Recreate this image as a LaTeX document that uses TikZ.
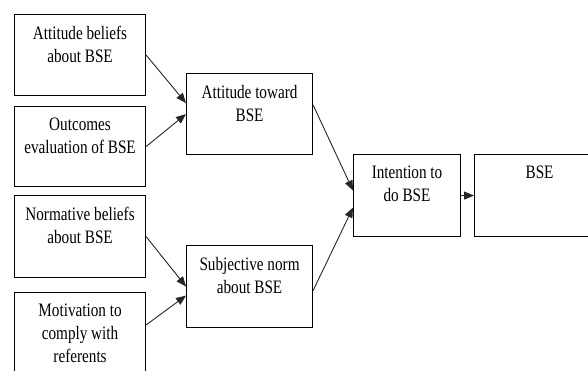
\documentclass[tikz,border=0pt]{standalone}
\usepackage{fontspec}
\newfontfamily\tnr[FakeStretch=0.8]{Liberation Serif}
\usetikzlibrary{arrows.meta, positioning}

\tikzset{
	box/.style = {draw, line width=1.1pt, anchor=north west, inner sep=0pt,
		minimum width=131pt, minimum height=81pt},
	lbl/.style = {anchor=north, inner sep=0pt, yshift=-12pt, align=center,
		font=\tnr\fontsize{19}{23}\selectfont},
	arr/.style = {draw=black!85, line width=0.9pt, -{Triangle[length=10pt, width=8pt]}}
}

\begin{document}
\begin{tikzpicture}[x=1pt, y=-1pt]
	\useasboundingbox (0,0) rectangle (588,370);
	\clip (0,0) rectangle (588,370);
	% left column
	\node [box, label={[lbl]north:{Attitude beliefs\\about BSE}}] (ab) at (14,14) {};
	\node [box, minimum height=80pt, label={[lbl]north:{Outcomes\\evaluation of BSE}}] (oe) at (14,106) {};
	\node [box, minimum height=82pt, label={[lbl]north:{Normative beliefs\\about BSE}}] (nb) at (14,195) {};
	\node [box, minimum height=95pt, label={[lbl]north:{Motivation to\\comply with\\referents}}] (mc) at (14,292) {};
	% middle column
	\node [box, minimum width=126pt, label={[lbl]north:{Attitude toward\\BSE}}] (at) at (186,73) {};
	\node [box, minimum width=126pt, minimum height=82pt, label={[lbl]north:{Subjective norm\\about BSE}}] (sn) at (186,245) {};
	% right
	\node [box, minimum width=107pt, minimum height=82pt, label={[lbl]north:{Intention to\\do BSE}}] (in) at (353,154) {};
	\node [box, minimum width=130pt, minimum height=82pt, label={[lbl]north:{BSE}}] (bse) at (474,154) {};

	\draw [arr] (ab.east) -- ([yshift=11pt]at.west);
	\draw [arr] (oe.east) -- (at.west);
	\draw [arr] (nb.east) -- (sn.west);
	\draw [arr] ([yshift=-33pt]mc.north east) -- ([yshift=-9pt]sn.west);
	\draw [arr] ([yshift=-32pt]at.north east) -- ([yshift=5pt]in.west);
	\draw [arr] ([yshift=-4pt]sn.east) -- ([yshift=-12pt]in.west);
	\draw [arr] (in.east) -- (bse.west);
\end{tikzpicture}
\end{document}
